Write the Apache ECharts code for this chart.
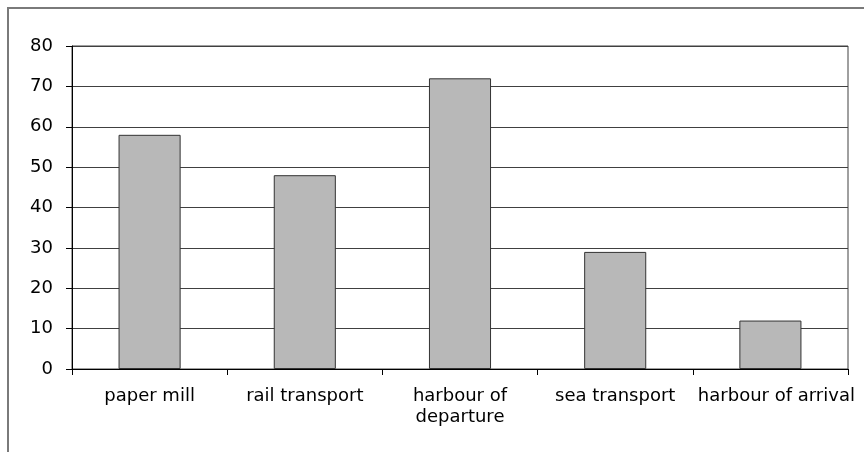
<!DOCTYPE html>
<html>
<head>
<meta charset="utf-8">
<script src="https://cdn.jsdelivr.net/npm/echarts@6/dist/echarts.min.js"></script>
<style>
html,body{margin:0;padding:0;background:#fff;}
#chart{width:864px;height:452px;}
</style>
</head>
<body>
<div id="chart"></div>
<script>
const categories = ['paper mill', 'rail transport', 'harbour of\ndeparture', 'sea transport', 'harbour of arrival'];
const values = [58, 48, 72, 29, 12];
const yTicks = [0, 10, 20, 30, 40, 50, 60, 70, 80];

const chart = echarts.init(document.getElementById('chart'), null, {renderer: 'canvas'});
const font = 'DejaVu Sans';
const catData = categories.map((c, i) => i === categories.length - 1
  ? {value: c, textStyle: {padding: [0, 0, 0, 12]}}
  : c);
chart.setOption({
  animation: false,
  backgroundColor: '#ffffff',
  graphic: [{
    type: 'rect',
    shape: {x: 8, y: 8, width: 1000, height: 1000},
    style: {fill: 'none', stroke: '#7a7a7a', lineWidth: 2},
    silent: true
  }],
  grid: {
    left: 72, right: 16, top: 46, bottom: 83,
    show: true, borderColor: '#404040', borderWidth: 1, backgroundColor: 'transparent'
  },
  xAxis: {
    type: 'category',
    data: catData,
    axisLine: {lineStyle: {color: '#000', width: 1}},
    axisTick: {show: true, length: 6, alignWithLabel: false, lineStyle: {color: '#000'}},
    axisLabel: {
      interval: 0, margin: 17, color: '#000',
      fontFamily: font, fontSize: 18, lineHeight: 21
    },
    splitLine: {show: false}
  },
  yAxis: {
    type: 'value',
    min: yTicks[0], max: yTicks[yTicks.length - 1], interval: 10,
    axisLine: {show: true, lineStyle: {color: '#000', width: 1}},
    axisTick: {show: true, length: 6, lineStyle: {color: '#000'}},
    axisLabel: {margin: 19, color: '#000', fontFamily: font, fontSize: 18},
    splitLine: {show: true, lineStyle: {color: '#404040', width: 1}}
  },
  series: [{
    type: 'bar',
    data: values,
    barWidth: '40%',
    itemStyle: {color: '#b8b8b8', borderColor: '#333333', borderWidth: 1}
  }]
});
</script>
</body>
</html>
